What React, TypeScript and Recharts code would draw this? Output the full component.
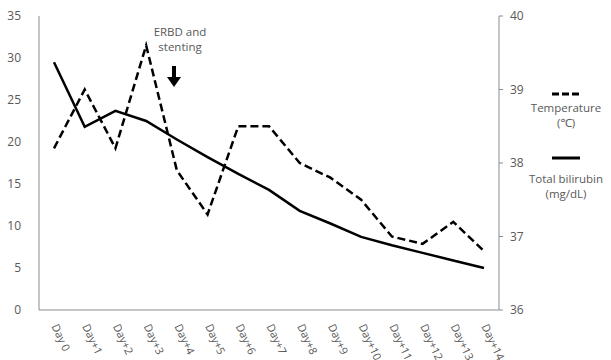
import React from "react";
import {
  LineChart,
  Line,
  XAxis,
  YAxis,
} from "recharts";

const days = [
  "Day 0", "Day+1", "Day+2", "Day+3", "Day+4", "Day+5", "Day+6", "Day+7",
  "Day+8", "Day+9", "Day+10", "Day+11", "Day+12", "Day+13", "Day+14",
];
const temperature = [
  38.2, 39.0, 38.2, 39.6, 37.9, 37.3, 38.5, 38.5, 38.0, 37.8, 37.5, 37.0, 36.9, 37.2, 36.8,
];
const bilirubin = [
  29.5, 21.8, 23.7, 22.5, 20.3, 18.2, 16.2, 14.3, 11.8, 10.3, 8.7, 7.7, 6.8, 5.9, 5.0,
];
const leftTicks = [0, 5, 10, 15, 20, 25, 30, 35];
const rightTicks = [36, 37, 38, 39, 40];

const data = days.map((day, i) => ({
  day,
  temperature: temperature[i],
  bilirubin: bilirubin[i],
}));

const FONT = "'Open Sans', 'Noto Sans', sans-serif";
const GREY = "#595959";

function DayTick(props: any) {
  const { x, y, payload } = props;
  return (
    <text
      x={x}
      y={y + 7}
      transform={`rotate(65, ${x}, ${y + 7})`}
      textAnchor="start"
      dominantBaseline="middle"
      fontSize={11}
      fill={GREY}
      fontFamily={FONT}
    >
      {payload.value}
    </text>
  );
}

// legend drawn next to the right axis
function LegendBox() {
  const item = (dash: string | undefined, lines: string[], top: number, gap: number) => (
    <div style={{ position: "absolute", left: 0, top, width: 80, textAlign: "center" }}>
      <svg width={80} height={8} style={{ display: "block", marginBottom: gap }}>
        <line x1={26} x2={54} y1={4} y2={4} stroke="#000" strokeWidth={3} strokeDasharray={dash} />
      </svg>
      {lines.map((l) => (
        <div key={l} style={{ fontSize: 11.5, color: GREY, lineHeight: "15px" }}>{l}</div>
      ))}
    </div>
  );
  return (
    <div style={{ position: "absolute", left: 526, top: 90, width: 80, height: 120, fontFamily: FONT }}>
      {item("7 3", ["Temperature", "(℃)"], 0, 2)}
      {item(undefined, ["Total bilirubin", "(mg/dL)"], 64, 9)}
    </div>
  );
}

export default function App() {
  return (
    <div style={{ position: "absolute", left: 0, top: 0, width: 611, height: 360 }}>
      <LineChart
        width={611}
        height={360}
        data={data}
        margin={{ top: 16, right: 82, bottom: 0, left: 0 }}
      >
        <XAxis
          dataKey="day"
          padding={{ left: 15, right: 15 }}
          tickLine={false}
          axisLine={{ stroke: "#8c8c8c" }}
          height={50}
          interval={0}
          tick={<DayTick />}
        />
        <YAxis
          yAxisId="left"
          domain={[0, 35]}
          ticks={leftTicks}
          width={39}
          tickLine={false}
          tickMargin={12}
          axisLine={{ stroke: "#8c8c8c" }}
          tick={{ fontSize: 12, fill: GREY, fontFamily: FONT }}
        />
        <YAxis
          yAxisId="right"
          orientation="right"
          domain={[36, 40]}
          ticks={rightTicks}
          width={30}
          tickSize={4}
          tickMargin={7}
          tickLine={{ stroke: "#8c8c8c" }}
          axisLine={{ stroke: "#8c8c8c" }}
          tick={{ fontSize: 12, fill: GREY, fontFamily: FONT }}
        />
        <Line
          yAxisId="right"
          dataKey="temperature"
          stroke="#000"
          strokeWidth={2.5}
          strokeDasharray="8 4"
          dot={false}
          isAnimationActive={false}
        />
        <Line
          yAxisId="left"
          dataKey="bilirubin"
          stroke="#000"
          strokeWidth={2.5}
          dot={false}
          isAnimationActive={false}
        />
      </LineChart>
      <LegendBox />
      <div
        style={{
          position: "absolute",
          left: 140,
          top: 24,
          width: 80,
          textAlign: "center",
          fontFamily: FONT,
          fontSize: 11.5,
          lineHeight: "15px",
          color: GREY,
        }}
      >
        ERBD and
        <br />
        stenting
      </div>
      <svg style={{ position: "absolute", left: 164, top: 64 }} width={20} height={26}>
        <rect x={8} y={2} width={4} height={12} fill="#000" />
        <polygon points="3,13 17,13 10,23" fill="#000" />
      </svg>
    </div>
  );
}
